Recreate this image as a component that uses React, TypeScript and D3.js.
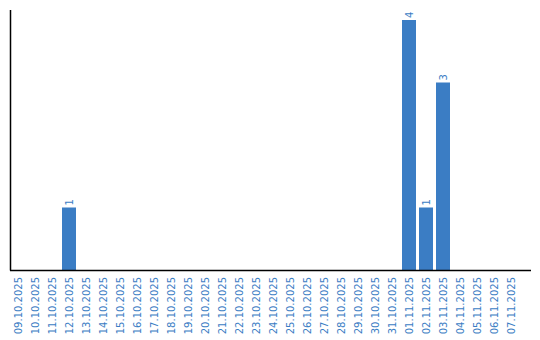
import React, { useEffect, useRef } from "react";
import * as d3 from "d3";

const categories: string[] = [
  "09.10.2025", "10.10.2025", "11.10.2025", "12.10.2025", "13.10.2025",
  "14.10.2025", "15.10.2025", "16.10.2025", "17.10.2025", "18.10.2025",
  "19.10.2025", "20.10.2025", "21.10.2025", "22.10.2025", "23.10.2025",
  "24.10.2025", "25.10.2025", "26.10.2025", "27.10.2025", "28.10.2025",
  "29.10.2025", "30.10.2025", "31.10.2025", "01.11.2025", "02.11.2025",
  "03.11.2025", "04.11.2025", "05.11.2025", "06.11.2025", "07.11.2025",
];
const values: number[] = [
  0, 0, 0, 1, 0, 0, 0, 0, 0, 0,
  0, 0, 0, 0, 0, 0, 0, 0, 0, 0,
  0, 0, 0, 4, 1, 3, 0, 0, 0, 0,
];

const W = 540;
const H = 340;
const BLUE = "#3b7dc4";
const FONT = "'DejaVu Sans', Verdana, sans-serif";

export default function App() {
  const ref = useRef<SVGSVGElement | null>(null);

  useEffect(() => {
    const svg = d3.select(ref.current);
    svg.selectAll("*").remove();

    const left = 11;
    const baseY = 270;
    const x = d3
      .scaleBand<string>()
      .domain(categories)
      .range([left, left + 507])
      .paddingInner(3 / 17)
      .paddingOuter(0)
      .align(0);
    const y = d3.scaleLinear().domain([0, 4.16]).range([baseY, 10]);

    const data = categories.map((c, i) => ({ c, v: values[i] }));

    // bars
    svg
      .append("g")
      .selectAll("rect")
      .data(data.filter((d) => d.v > 0))
      .join("rect")
      .attr("x", (d) => x(d.c)!)
      .attr("y", (d) => y(d.v))
      .attr("width", x.bandwidth())
      .attr("height", (d) => baseY - y(d.v))
      .attr("fill", BLUE);

    // value labels
    svg
      .append("g")
      .selectAll("text")
      .data(data.filter((d) => d.v > 0))
      .join("text")
      .attr(
        "transform",
        (d) => `translate(${x(d.c)! + x.bandwidth() / 2 + 3.5},${y(d.v) - 2}) rotate(-90)`
      )
      .attr("text-anchor", "start")
      .attr("font-family", FONT)
      .attr("font-size", 10)
      .attr("fill", BLUE)
      .text((d) => String(d.v));

    // axes lines
    svg
      .append("line")
      .attr("x1", 10.5)
      .attr("x2", 10.5)
      .attr("y1", 10)
      .attr("y2", baseY + 0.5)
      .attr("stroke", "#000")
      .attr("stroke-width", 1.5);
    svg
      .append("line")
      .attr("x1", 10)
      .attr("x2", 531)
      .attr("y1", baseY + 0.5)
      .attr("y2", baseY + 0.5)
      .attr("stroke", "#000")
      .attr("stroke-width", 1.5);

    // tick labels
    svg
      .append("g")
      .selectAll("text")
      .data(categories)
      .join("text")
      .attr(
        "transform",
        (c) => `translate(${x(c)! + x.bandwidth() / 2 + 3.5},277) rotate(-90)`
      )
      .attr("text-anchor", "end")
      .attr("font-family", FONT)
      .attr("font-size", 10)
      .attr("fill", BLUE)
      .text((c) => c);
  }, []);

  return (
    <svg
      ref={ref}
      width={W}
      height={H}
      style={{ position: "absolute", left: 0, top: 0, display: "block", background: "#fff" }}
    />
  );
}
